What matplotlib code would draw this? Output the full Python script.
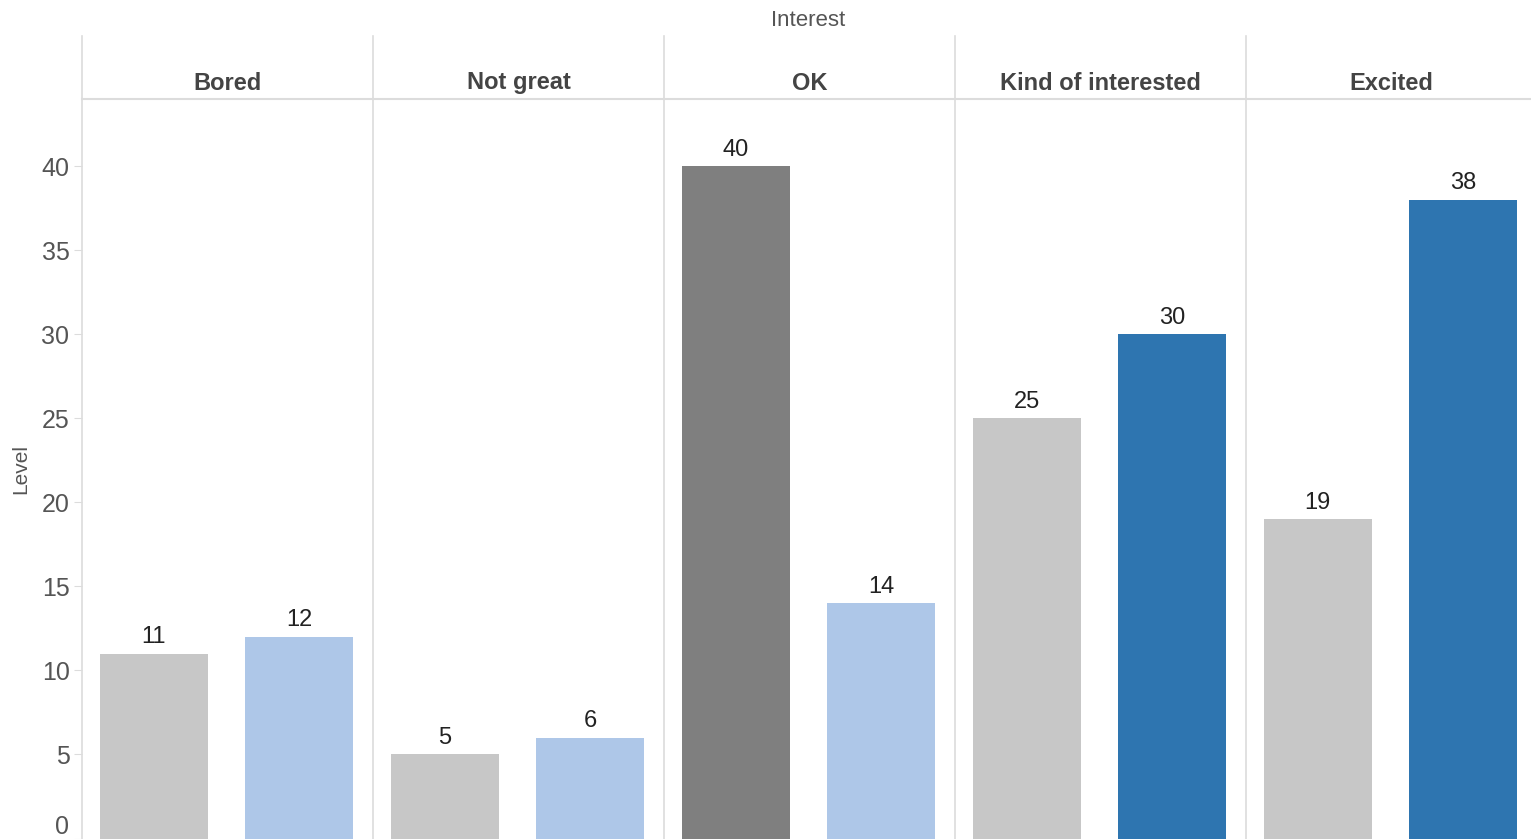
import matplotlib
matplotlib.use("Agg")
import matplotlib.pyplot as plt
from matplotlib.lines import Line2D

plt.rcParams['font.family'] = ['Liberation Sans', 'DejaVu Sans']

panels = ["Bored", "Not great", "OK", "Kind of interested", "Excited"]
first_values = [11, 5, 40, 25, 19]
second_values = [12, 6, 14, 30, 38]
first_colors = ["#c7c7c7", "#c7c7c7", "#7f7f7f", "#c7c7c7", "#c7c7c7"]
second_colors = ["#aec7e8", "#aec7e8", "#aec7e8", "#2e75b0", "#2e75b0"]
yticks = [0, 5, 10, 15, 20, 25, 30, 35, 40]

W, H = 1531, 839
fig = plt.figure(figsize=(W / 100, H / 100), dpi=100)
left = 82 / W
pw = 291 / W
right = min(left + 5 * pw, 1.0)
bottom, top = 0.5 / H, 1 - 99 / H
grid_col = "#dcdcdc"
text_col = "#555555"

axes = []
for i, name in enumerate(panels):
    ax = fig.add_axes([left + i * pw, bottom, pw, top - bottom])
    axes.append(ax)
    vals = [first_values[i], second_values[i]]
    cols = [first_colors[i], second_colors[i]]
    bars = ax.bar([0, 1], vals, width=0.745, color=cols)
    for b, v in zip(bars, vals):
        ax.annotate(str(v), (b.get_x() + b.get_width() / 2, v), xytext=(0, 4),
                    textcoords="offset points", ha="center", va="bottom",
                    fontsize=17, color="#222222")
    ax.set_xlim(-0.493, 1.507)
    ax.set_ylim(0, 44)
    ax.set_xticks([])
    for s in ["top", "right", "bottom"]:
        ax.spines[s].set_visible(False)
    ax.spines["left"].set_color(grid_col)
    ax.spines["left"].set_linewidth(1.2)
    if i == 0:
        ax.set_yticks(yticks)
        ax.set_yticklabels([str(t) for t in yticks], fontsize=18, color=text_col)
        ax.tick_params(axis="y", length=6, color=grid_col, pad=3)
        ax.get_yticklabels()[0].set_va("bottom")
        ax.set_ylabel("Level", fontsize=15, color=text_col, labelpad=8)
    else:
        ax.set_yticks([])
    x0 = left + i * pw
    fig.text(x0 + pw / 2, 1 - 83 / H, name, ha="center", va="center",
             fontsize=17, fontweight="bold", color="#444444")
    fig.add_artist(Line2D([x0, x0], [top, 1 - 36 / H], color=grid_col, lw=1.2))

fig.add_artist(Line2D([left, right], [top, top], color=grid_col, lw=1.5))
fig.text(808 / W, 1 - 20 / H, "Interest", ha="center",
         va="center", fontsize=16, color=text_col)

fig.savefig("out.png", dpi=100)
